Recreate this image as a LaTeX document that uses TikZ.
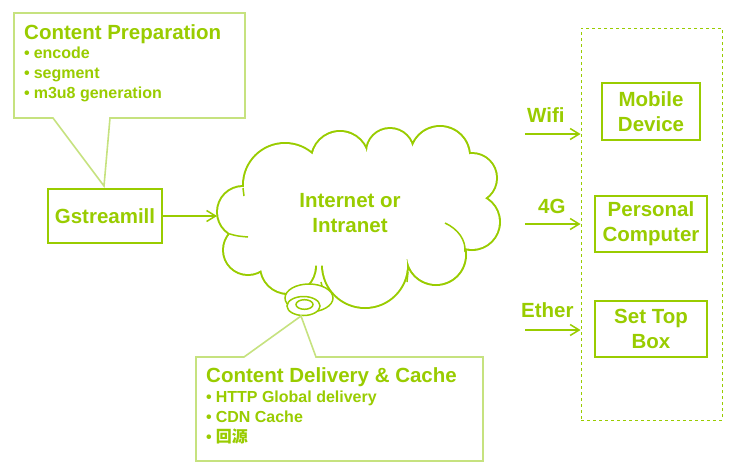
\documentclass[tikz,border=0pt]{standalone}
\usepackage{fontspec}
\setmainfont{Liberation Sans}
\newfontfamily\cjk{Noto Sans CJK SC}
\usetikzlibrary{arrows.meta}
\definecolor{gmain}{HTML}{99CC00}
\definecolor{glight}{HTML}{C6E27F}
\begin{document}
\begin{tikzpicture}[x=1pt,y=-1pt,
  title/.style={font=\fontsize{20.5}{25}\selectfont\bfseries, text=gmain, inner sep=0pt},
  item/.style={font=\fontsize{16}{20}\selectfont\bfseries, text=gmain, inner sep=0pt, anchor=base west},
  devbox/.style={draw=gmain, line width=1.8pt, text=gmain, align=center, inner sep=0pt,
    font=\fontsize{20.5}{25}\selectfont\bfseries},
  callout/.style={draw=glight, line width=1.6pt, fill=white, line join=miter},
  conn/.style={draw=gmain, line width=1.3pt, -{Straight Barb[length=9pt,width=11pt,line width=1.5pt]}},
  lbl/.style={font=\fontsize{20.5}{25}\selectfont\bfseries, text=gmain, inner sep=0pt, anchor=base west},
  cloudline/.style={draw=gmain, line width=1.5pt}
]
\useasboundingbox (0,0) rectangle (736,475);

% ---------- Content Preparation callout ----------
\path[callout] (14,13) -- (245,13) -- (245,118) -- (110,118) -- (104,186) -- (53,118) -- (14,118) -- cycle;
\node[title, anchor=base west] (cpt) at (24,39) {Content Preparation};
\node[item] (cp1) at (24,58) {\textbullet\hspace{4pt}encode};
\node[item] (cp2) at (24,78) {\textbullet\hspace{4pt}segment};
\node[item] (cp3) at (24,98) {\textbullet\hspace{4pt}m3u8 generation};

% ---------- Gstreamill ----------
\node[devbox, minimum width=114pt, minimum height=54pt] (gst) at (105,216) {Gstreamill};

% ---------- Cloud ----------
\fill[gmain]
  (243,212) circle (27) (248,250) circle (26) (288,266) circle (29)
  (365,265) circle (44) (436,255) circle (31) (472,222) circle (29)
  (472,178) circle (26) (440,156) circle (31) (390,152) circle (25)
  (340,160) circle (30) (285,185) circle (43);
\fill[white]
  (243,212) circle (25) (248,250) circle (24) (288,266) circle (27)
  (365,265) circle (42) (436,255) circle (29) (472,222) circle (27)
  (472,178) circle (24) (440,156) circle (29) (390,152) circle (23)
  (340,160) circle (28) (285,185) circle (41);
\fill[white] (243,212) -- (248,250) -- (288,266) -- (365,265) -- (436,255) -- (472,222)
  -- (472,178) -- (440,156) -- (390,152) -- (340,160) -- (285,185) -- cycle;
\draw[cloudline] (445,223) .. controls (458,229) and (466,240) .. (465,252);
\draw[cloudline] (230,234) .. controls (237,236) .. (248,237);
\draw[cloudline] (408,272) -- (407,282);
\draw[cloudline] (243,188) -- (244,196);
\draw[cloudline] (321,282) -- (323,290);
\coordinate (cloudw) at (217,216);
\node[title, align=center] (net) at (350,213) {Internet or\\Intranet};

% cloud bubbles
\draw[cloudline, fill=white] (309,298) ellipse (24 and 14);
\draw[cloudline, fill=white] (303.5,306) ellipse (16.5 and 9.5);
\draw[cloudline] (304.5,304.5) ellipse (8.5 and 4.8);

% ---------- Content Delivery callout ----------
\path[callout] (196,357) -- (244,357) -- (301,316) -- (316,357) -- (483,357) -- (483,461) -- (196,461) -- cycle;
\node[title, anchor=base west] (cdt) at (206,382) {Content Delivery \& Cache};
\node[item] (cd1) at (206,402) {\textbullet\hspace{4pt}HTTP Global delivery};
\node[item] (cd2) at (206,422) {\textbullet\hspace{4pt}CDN Cache};
\node[item] (cd3) at (206,442) {\textbullet\hspace{4pt}{\cjk 回源}};

% ---------- Devices ----------
\node[draw=gmain, dashed, line width=0.9pt, minimum width=141pt, minimum height=392pt, inner sep=0pt] (grp) at (651.5,224) {};
\node[devbox, minimum width=98pt, minimum height=57pt] (mob) at (651,111.5) {Mobile\\Device};
\node[devbox, minimum width=112pt, minimum height=56pt] (pc) at (651,224) {Personal\\Computer};
\node[devbox, minimum width=112pt, minimum height=56pt] (stb) at (651,329) {Set Top\\Box};

\coordinate (a1) at (525,134);
\coordinate (a2) at (525,224);
\coordinate (a3) at (525,330);
\draw[conn] (a1) -- (a1 -| grp.west);
\draw[conn] (a2) -- (a2 -| grp.west);
\draw[conn] (a3) -- (a3 -| grp.west);
\node[lbl] (wifi) at (527,122) {Wifi};
\node[lbl] (g4) at (538,213) {4G};
\node[lbl] (eth) at (521,317) {Ether};

% Gstreamill -> cloud
\draw[conn] (gst.east) -- (cloudw);
\end{tikzpicture}
\end{document}
